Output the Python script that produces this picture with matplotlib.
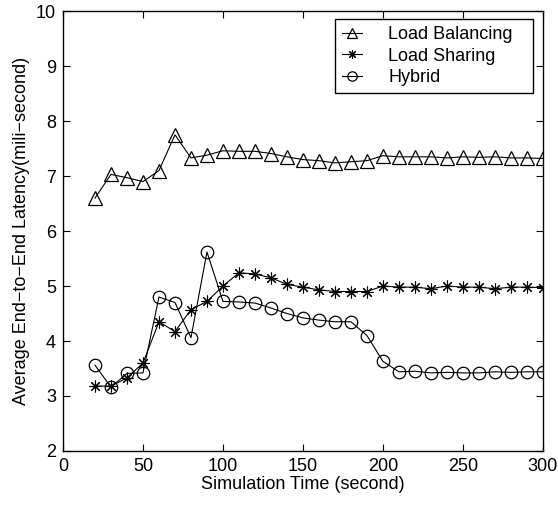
import matplotlib
matplotlib.use('Agg')
import matplotlib.pyplot as plt
import numpy as np

plt.rcParams['font.family'] = ['Liberation Sans', 'DejaVu Sans']

sim_time = list(range(20, 301, 10))
load_balancing = [6.6, 7.03, 6.97, 6.9, 7.1, 7.75, 7.33, 7.38, 7.46, 7.45,
                  7.45, 7.41, 7.35, 7.3, 7.28, 7.24, 7.26, 7.28, 7.37, 7.35,
                  7.35, 7.35, 7.33, 7.35, 7.34, 7.35, 7.33, 7.33, 7.32]
load_sharing = [3.18, 3.18, 3.33, 3.6, 4.35, 4.17, 4.57, 4.72, 5.0, 5.24,
                5.22, 5.15, 5.03, 4.98, 4.93, 4.9, 4.9, 4.9, 5.0, 4.98,
                4.98, 4.95, 5.0, 4.98, 4.98, 4.95, 4.98, 4.98, 4.97]
hybrid = [3.56, 3.16, 3.41, 3.42, 4.8, 4.7, 4.06, 5.62, 4.72, 4.71,
          4.69, 4.6, 4.5, 4.42, 4.38, 4.35, 4.35, 4.1, 3.63, 3.44,
          3.45, 3.42, 3.43, 3.42, 3.42, 3.44, 3.43, 3.44, 3.44]

fig = plt.figure(figsize=(5.58, 5.05), dpi=100)
ax = fig.add_axes([0.1129, 0.107, 0.860, 0.871])

ax.plot(sim_time, load_balancing, color='black', lw=0.8, marker='^',
        ms=10, mfc='none', mec='black', mew=0.9, label='Load Balancing')
ax.plot(sim_time, load_sharing, color='black', lw=0.8, marker=(8, 2, 0),
        ms=8.5, mec='black', mew=0.8, label='Load Sharing')
ax.plot(sim_time, hybrid, color='black', lw=0.8, marker='o',
        ms=9, mfc='none', mec='black', mew=0.9, label='Hybrid')

ax.set_xlim(0, 300)
ax.set_ylim(2, 10)
ax.set_xticks(np.arange(0, 301, 50))
ax.set_yticks(np.arange(2, 11, 1))
ax.tick_params(direction='in', top=True, right=True, labelsize=13, length=5, pad=5)
for spine in ax.spines.values():
    spine.set_linewidth(1.0)
ax.set_xlabel('Simulation Time (second)', fontsize=13, labelpad=1)
ax.set_ylabel('Average End\u2212to\u2212End Latency(mili\u2212second)', fontsize=13, labelpad=4)

# legend box spans a fixed area like the original (extra room on the right)
leg = ax.legend(loc='upper left', bbox_to_anchor=(0.567, 0.818, 0.412, 0.164),
                mode='expand', fontsize=13, frameon=True, fancybox=False,
                edgecolor='black', framealpha=1, handlelength=1.1,
                handletextpad=1.45, borderaxespad=0, labelspacing=0.25,
                borderpad=0.4, markerscale=0.75)
leg.get_frame().set_linewidth(1.0)

fig.savefig('out.png', dpi=100)
